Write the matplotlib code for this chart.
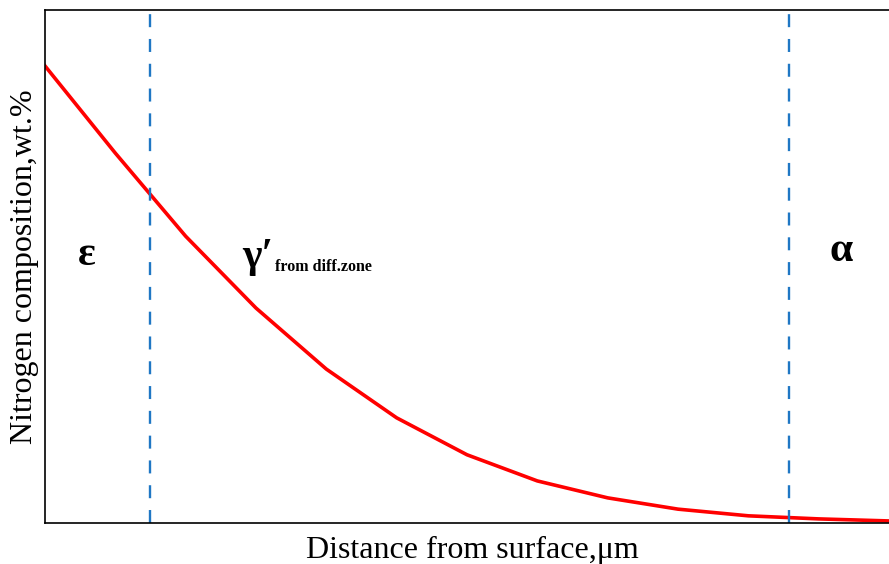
import matplotlib.pyplot as plt

plt.rcParams['font.family'] = ['Liberation Serif', 'DejaVu Serif']

# nitrogen profile
distance = [0, 1, 2, 3, 4, 5, 6, 7, 8, 9, 10, 11, 12]
nitrogen = [8.91, 7.21, 5.59, 4.19, 3.00, 2.05, 1.33, 0.82, 0.49, 0.27, 0.14, 0.08, 0.04]

# phase boundaries
boundaries = [1.49, 10.58]


def main():
    fig = plt.figure(figsize=(8.89, 5.64), dpi=100)
    ax = fig.add_axes([45 / 889, 41 / 564, 844 / 889, 513 / 564])

    ax.plot(distance, nitrogen, color='#ff0000', linewidth=2.6)
    for b in boundaries:
        ax.axvline(b, ymin=0, ymax=0.995, color='#1f77c4', linewidth=1.7,
                   linestyle=(0, (5.5, 5)))

    ax.set_xlim(0, 12)
    ax.set_ylim(0, 10)
    ax.set_xticks([])
    ax.set_yticks([])
    ax.spines['right'].set_visible(False)
    for s in ['left', 'top', 'bottom']:
        ax.spines[s].set_linewidth(1.2)

    # phase labels
    ax.text(0.60, 5.22, 'ε', fontsize=30, fontweight='bold', ha='center', va='center')
    ax.text(2.80, 5.0, 'γ′', fontsize=30, fontweight='bold', ha='left', va='baseline')
    ax.text(3.27, 4.91, 'from diff.zone', fontsize=11.5, fontweight='bold',
            ha='left', va='baseline')
    ax.text(11.32, 5.30, 'α', fontsize=30, fontweight='bold', ha='center', va='center')

    ax.set_xlabel('Distance from surface,μm', fontsize=23)
    ax.xaxis.set_label_coords(0.506, -0.026, transform=ax.transAxes)
    ax.xaxis.label.set_va('top')
    ax.set_ylabel('Nitrogen composition,wt.%', fontsize=23, labelpad=4)

    fig.savefig('out.png', dpi=100)


if __name__ == '__main__':
    main()
